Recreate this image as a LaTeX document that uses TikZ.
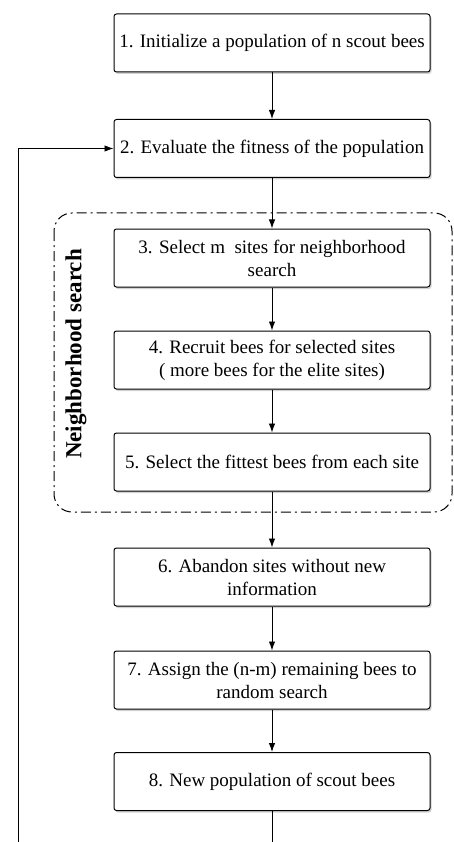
\documentclass[tikz,border=0pt]{standalone}
\usepackage{fontspec}
\setmainfont{Liberation Serif}
\usetikzlibrary{arrows.meta,shadows}
\begin{document}
\begin{tikzpicture}[x=1pt,y=-1pt,
  stepbox/.style={draw, line width=1pt, rounded corners=2.5pt, minimum width=316pt,
    minimum height=58pt, align=center, fill=white, inner sep=2pt,
    font=\fontsize{19}{23}\selectfont,
    drop shadow={shadow xshift=1.5pt, shadow yshift=-2pt, fill=black!35, opacity=0.5}},
  arr/.style={-{Latex[length=9pt,width=6.5pt]}, line width=0.9pt}]
\useasboundingbox (0,0) rectangle (454,842);
\fill[white] (0,0) rectangle (454,842);
\draw[line width=1pt, dash pattern=on 10pt off 4pt on 2pt off 4pt, rounded corners=18pt]
  (54,213) rectangle (452,512);
\node[stepbox] (b1) at (272,43) {1. Initialize a population of n scout bees};
\node[stepbox] (b2) at (272,148.5) {2. Evaluate the fitness of the population};
\node[stepbox] (b3) at (272,258) {3. Select m\ \ sites for neighborhood\\search};
\node[stepbox] (b4) at (272,360) {4. Recruit bees for selected sites\\( more bees for the elite sites)};
\node[stepbox] (b5) at (272,462) {5. Select the fittest bees from each site};
\node[stepbox] (b6) at (272,577) {6. Abandon sites without new\\information};
\node[stepbox] (b7) at (272,680) {7. Assign the (n-m) remaining bees to\\random search};
\node[stepbox] (b8) at (272,781.5) {8. New population of scout bees};
\node[rotate=90, font=\bfseries\fontsize{23}{26}\selectfont] (lab) at (76,354) {Neighborhood search};
\draw[arr] (b1) -- (b2);
\draw[arr] (b2) -- (b3);
\draw[arr] (b3) -- (b4);
\draw[arr] (b4) -- (b5);
\draw[arr] (b5) -- (b6);
\draw[arr] (b6) -- (b7);
\draw[arr] (b7) -- (b8);
\coordinate (lb) at (18,842);
\coordinate (eb) at (272,842);
\draw[line width=0.9pt] (b8) -- (eb);
\draw[arr] (lb) |- (b2.west);
\end{tikzpicture}
\end{document}
